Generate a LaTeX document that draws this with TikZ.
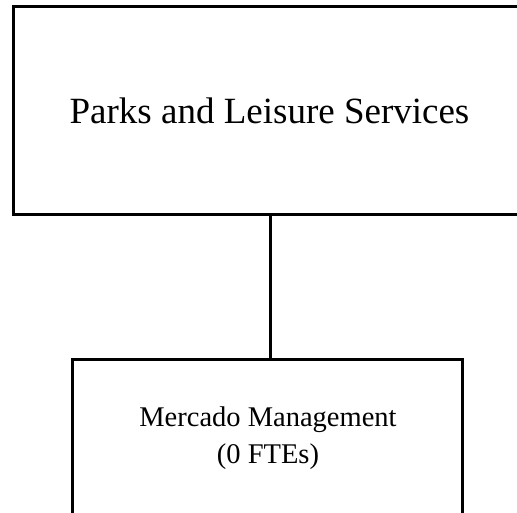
\documentclass[tikz,border=0pt]{standalone}
\usepackage{fontspec}
\setmainfont{Liberation Serif}
\begin{document}
\begin{tikzpicture}[x=1pt,y=-1pt,
  orgbox/.style={draw=black, line width=3pt, fill=none, inner sep=0pt, anchor=center},
  link/.style={draw=black, line width=3pt}]
  \useasboundingbox (0,0) rectangle (517,512);
  \clip (0,0) rectangle (517,512);
  % department box (runs past the right edge)
  \node[orgbox, minimum width=513pt, minimum height=208.5pt] (dept) at (270,110.25) {};
  \node[font=\fontsize{37}{44}\selectfont, anchor=base] (deptlabel) at (269.5,123) {Parks and Leisure Services};
  % unit box (runs past the bottom edge)
  \node[orgbox, minimum width=390pt, minimum height=156pt] (unit) at (267,437) {};
  \node[font=\fontsize{28.5}{37}\selectfont, align=center, anchor=base] (unitlabel) at (268,463)
    {Mercado Management\\(0 FTEs)};
  % reporting line
  \draw[link] (dept.south) -- (dept.south |- unit.north);
\end{tikzpicture}
\end{document}
